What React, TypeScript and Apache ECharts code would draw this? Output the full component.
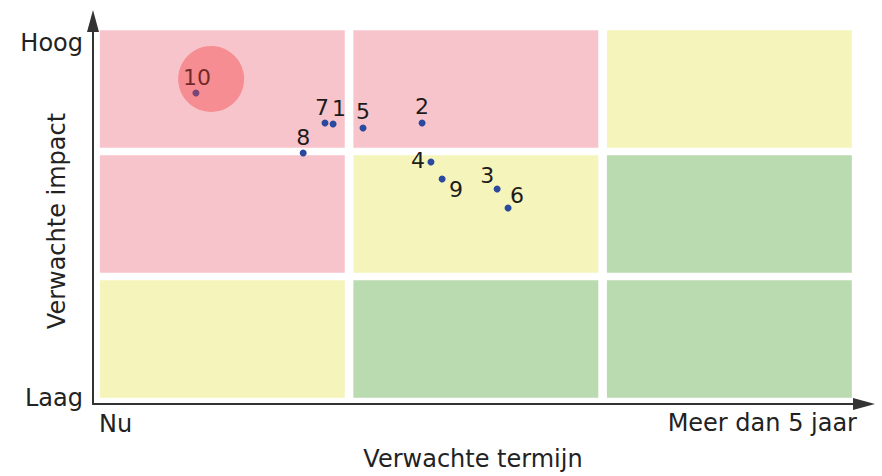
import React, { useEffect, useRef } from "react";
import * as echarts from "echarts";

// ---- data ----
const pointIds = ["1", "2", "3", "4", "5", "6", "7", "8", "9", "10"];
const termValues = [0.937, 1.288, 1.584, 1.323, 1.055, 1.627, 0.905, 0.819, 1.367, 0.396];
const impactValues = [2.22, 2.228, 1.7, 1.916, 2.188, 1.548, 2.228, 1.988, 1.78, 2.468];
const highlightPoint = [0.456, 2.58];
const xTickLabels = ["Nu", "Meer dan 5 jaar"];
const yTickLabels = ["Laag", "Hoog"];
const xAxisTitle = "Verwachte termijn";
const yAxisTitle = "Verwachte impact";
// risk zones, rows from bottom (impact 0-1) to top (impact 2-3), columns left to right
const zoneRows = [
  ["yellow", "green", "green"],
  ["pink", "yellow", "green"],
  ["pink", "pink", "yellow"],
];

// ---- styling ----
const zoneColors: Record<string, string> = {
  pink: "#f7c4cb",
  yellow: "#f5f4bb",
  green: "#badaaf",
};
const labelOffsets: Record<string, number[]> = {
  "1": [6, -16],
  "2": [0, -17],
  "3": [-10, -14],
  "4": [-13, -2],
  "5": [0, -17],
  "6": [9, -13],
  "7": [-3, -16],
  "8": [0, -16],
  "9": [14, 10],
  "10": [1, -16],
};
const FONT = "DejaVu Sans";
const TEXT = "#222222";

export default function App() {
  const ref = useRef<HTMLDivElement>(null);
  useEffect(() => {
    if (!ref.current) return;
    const chart = echarts.init(ref.current, null, { renderer: "svg" });

    const insetX = 0.017;
    const insetY = 0.03;
    const areas: any[] = [];
    zoneRows.forEach((row, r) => {
      row.forEach((zone, c) => {
        areas.push([
          { xAxis: c + insetX, yAxis: r + insetY, itemStyle: { color: zoneColors[zone], opacity: 1 } },
          { xAxis: c + 1 - insetX, yAxis: r + 1 - insetY },
        ]);
      });
    });

    const points = pointIds.map((id, i) => ({
      name: id,
      value: [termValues[i], impactValues[i]],
      label: { offset: labelOffsets[id] },
    }));

    chart.setOption({
      animation: false,
      grid: { left: 93, right: 18, top: 21, bottom: 72 },
      xAxis: {
        type: "value",
        min: -0.01,
        max: 3.031,
        splitLine: { show: false },
        axisTick: { show: false },
        axisLabel: { show: false },
        axisLine: {
          show: true,
          onZero: false,
          symbol: ["none", "triangle"],
          symbolSize: [12, 22],
          lineStyle: { color: "#333333", width: 2 },
        },
      },
      yAxis: {
        type: "value",
        min: -0.02,
        max: 3.044,
        splitLine: { show: false },
        axisTick: { show: false },
        axisLabel: { show: false },
        axisLine: {
          show: true,
          onZero: false,
          symbol: ["none", "triangle"],
          symbolSize: [12, 22],
          lineStyle: { color: "#333333", width: 2 },
        },
      },
      series: [
        {
          type: "scatter",
          z: 1,
          data: [],
          markArea: { silent: true, data: areas },
        },
        {
          type: "scatter",
          z: 2,
          symbolSize: 7,
          itemStyle: { color: "#2b4a9e", opacity: 1 },
          label: {
            show: true,
            position: "inside",
            formatter: "{b}",
            fontFamily: FONT,
            fontSize: 22,
            color: "#1c1c1c",
          },
          data: points,
        },
        {
          type: "scatter",
          z: 5,
          symbolSize: 66,
          itemStyle: { color: "rgba(242,60,60,0.5)" },
          silent: true,
          data: [highlightPoint],
        },
      ],
      graphic: [
        {
          type: "text",
          x: 83,
          y: 43,
          style: { text: yTickLabels[1], fill: TEXT, font: `24px "${FONT}"`, align: "right", verticalAlign: "middle" },
        },
        {
          type: "text",
          x: 83,
          y: 398,
          style: { text: yTickLabels[0], fill: TEXT, font: `24px "${FONT}"`, align: "right", verticalAlign: "middle" },
        },
        {
          type: "text",
          x: 99,
          y: 424,
          style: { text: xTickLabels[0], fill: TEXT, font: `24px "${FONT}"`, align: "left", verticalAlign: "middle" },
        },
        {
          type: "text",
          x: 857,
          y: 423,
          style: { text: xTickLabels[1], fill: TEXT, font: `24px "${FONT}"`, align: "right", verticalAlign: "middle" },
        },
        {
          type: "text",
          x: 473,
          y: 459,
          style: { text: xAxisTitle, fill: TEXT, font: `24px "${FONT}"`, align: "center", verticalAlign: "middle" },
        },
        {
          type: "text",
          x: 57,
          y: 221,
          rotation: Math.PI / 2,
          style: { text: yAxisTitle, fill: TEXT, font: `24px "${FONT}"`, align: "center", verticalAlign: "middle" },
        },
      ],
    });
    return () => chart.dispose();
  }, []);
  return <div ref={ref} style={{ width: 882, height: 476, position: "absolute", left: 0, top: 0 }} />;
}
